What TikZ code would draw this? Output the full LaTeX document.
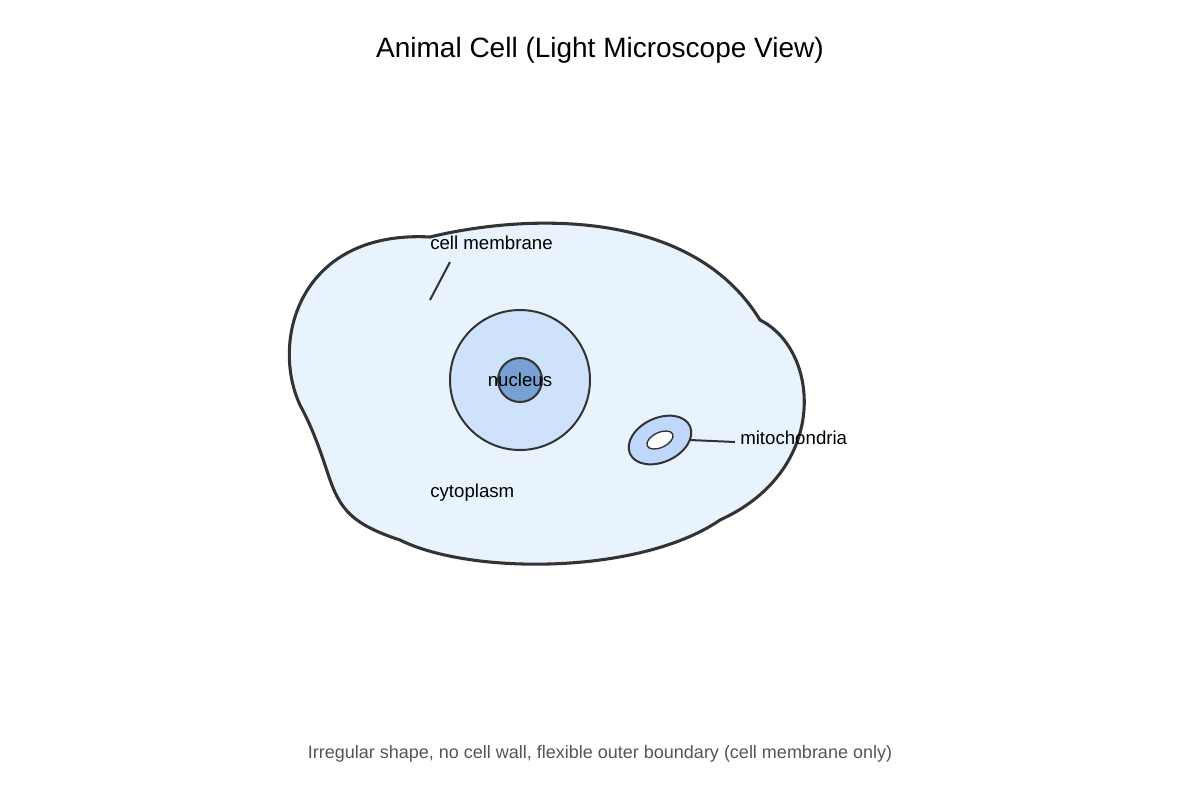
\documentclass[tikz,border=0pt]{standalone}
\usepackage{fontspec}
\setmainfont{Liberation Sans}
\begin{document}
\begin{tikzpicture}[x=0.75pt,y=-0.75pt,
  lbl/.style={font=\fontsize{14}{16}\selectfont, inner sep=0pt},
  edge/.style={line width=1.5pt, draw={rgb,255:red,51;green,51;blue,51}}]
\useasboundingbox (0,0) rectangle (1200,800);
\definecolor{cyto}{RGB}{232,243,254}
\definecolor{nuc}{RGB}{207,226,252}
\definecolor{nucl}{RGB}{120,160,210}
\definecolor{mito}{RGB}{190,215,250}
\definecolor{dk}{RGB}{51,51,51}
\node[font=\fontsize{21}{24}\selectfont] (title) at (600,50) {Animal Cell (Light Microscope View)};
\draw[line width=2.3pt, draw=dk, fill=cyto] (300,405) .. controls (270,340) and (300,230) .. (430,237)
  .. controls (520,215) and (690,205) .. (760,320)
  .. controls (820,350) and (830,470) .. (720,520)
  .. controls (640,575) and (470,575) .. (400,540)
  .. controls (345,522) and (338,505) .. (325,465)
  .. controls (315,435) and (308,420) .. (300,405) -- cycle;
\node[circle, minimum size=105pt, edge, fill=nuc] (nucleus) at (520,380) {};
\node[circle, minimum size=33pt, edge, fill=nucl] (nucleolus) at (520,380) {};
\node[lbl] (nlab) at (520,380) {nucleus};
\draw[edge, fill=mito, rotate around={25:(660,440)}] (660,440) ellipse (33 and 22);
\draw[line width=1pt, draw=dk, fill=white, rotate around={25:(660,440)}] (660,440) ellipse (14 and 7.5);
\coordinate (mitoE) at (690,440);
\node[lbl, anchor=west] (mlab) at (740,438) {mitochondria};
\draw[edge] (mitoE) -- (735,442);
\node[lbl, anchor=west] (cmlab) at (430,243) {cell membrane};
\coordinate (cm1) at (450,262);
\coordinate (cm2) at (430,300);
\draw[edge] (cm1) -- (cm2);
\node[lbl, anchor=west] (cyt) at (430,493) {cytoplasm};
\node[font=\fontsize{13.5}{16}\selectfont, text={rgb,255:red,85;green,85;blue,85}] (foot) at (600,754) {Irregular shape, no cell wall, flexible outer boundary (cell membrane only)};
\end{tikzpicture}
\end{document}
